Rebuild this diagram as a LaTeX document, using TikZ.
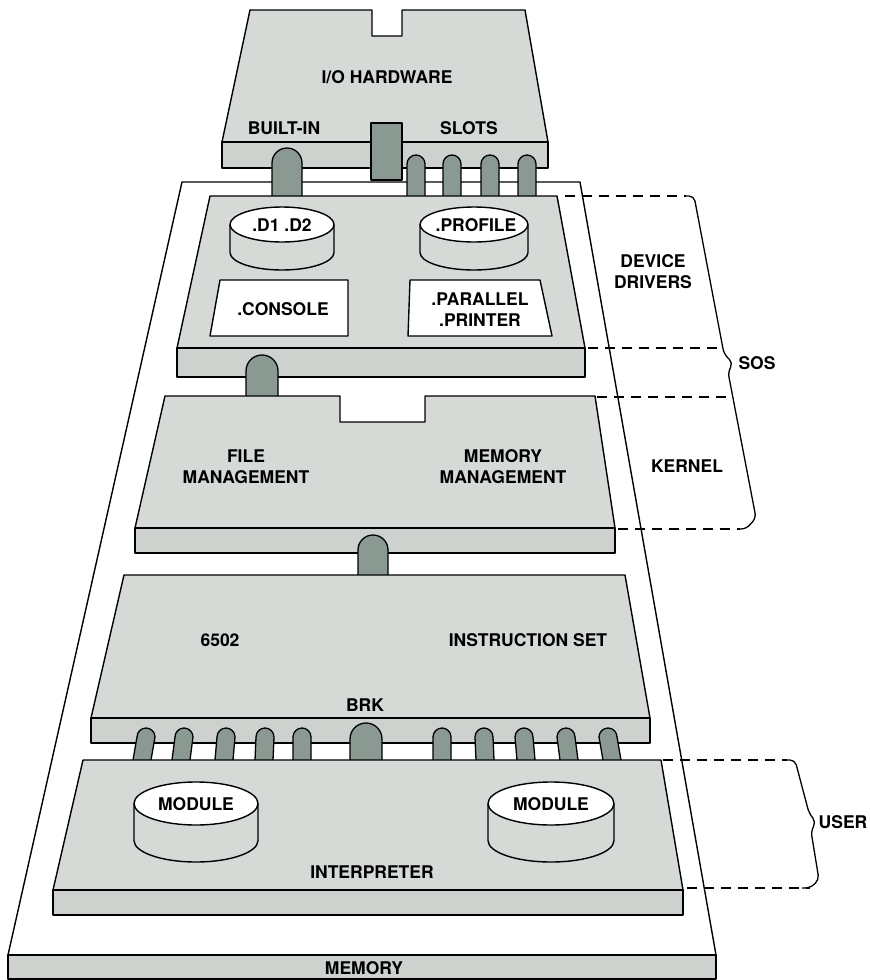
\documentclass[tikz,border=0pt]{standalone}
\usepackage{fontspec}
\setmainfont{TeX Gyre Heros}
\definecolor{facec}{RGB}{214,218,215}
\definecolor{stripc}{RGB}{205,210,207}
\definecolor{connc}{RGB}{138,154,146}
\newcommand\myconn[5]{%
  \pgfmathsetmacro\crad{(#2-#1)/2}%
  \draw[connst] (#1+#5,#4) -- (#1,#3+\crad) arc[start angle=180,end angle=360,radius=\crad] -- (#2+#5,#4);}
\newcommand\mycyl[5]{%
  \fill[facec] (#1-#4,#2) -- (#1-#4,#3) arc[start angle=180,end angle=0,x radius=#4,y radius=#5] -- (#1+#4,#2) -- cycle;
  \draw[ln] (#1-#4,#2) -- (#1-#4,#3) arc[start angle=180,end angle=0,x radius=#4,y radius=#5] -- (#1+#4,#2);
  \draw[ln,fill=white] (#1,#2) ellipse [x radius=#4, y radius=#5];}
\begin{document}
\begin{tikzpicture}[x=1pt,y=-1pt,line join=round,
  ln/.style={line width=1.4pt},
  board/.style={draw,fill=facec,line width=1.4pt},
  stripst/.style={draw,fill=stripc,line width=1.4pt},
  connst/.style={draw,fill=connc,line width=1.3pt},
  whitebox/.style={draw,fill=white,line width=1.4pt},
  lbl/.style={font=\fontsize{17.5}{21}\selectfont\bfseries,align=center,inner sep=0pt},
  dashln/.style={line width=1.3pt,dash pattern=on 10pt off 7pt},
  bracest/.style={line width=1.3pt,rounded corners=5pt}]
\useasboundingbox (0,0) rectangle (870,980);
% memory board
\draw[board,fill=white] (182,182) -- (580,182) -- (716,955) -- (8,955) -- cycle;
\draw[stripst] (8,955) rectangle (716,979);
\node[lbl] (memory) at (364,968) {MEMORY};
% I/O hardware
\draw[board] (250,10) -- (372,10) -- (372,36) -- (402,36) -- (402,10) -- (525,10) -- (548,142) -- (222,142) -- cycle;
\draw[stripst] (222,142) rectangle (548,168);
\node[lbl] (iohw) at (387,77) {I/O HARDWARE};
\node[lbl] (builtin) at (284,128) {BUILT-IN};
\node[lbl] (slots) at (469,128) {SLOTS};
\draw[connst] (371,123) rectangle (402,180);
\myconn{272}{302}{148}{196}{0}
\myconn{407}{425}{155}{196}{0}
\myconn{443}{461}{155}{196}{0}
\myconn{481}{499}{155}{196}{0}
\myconn{518}{536}{155}{196}{0}
% device drivers
\draw[board] (210,196) -- (557,196) -- (585,348) -- (177,348) -- cycle;
\draw[stripst] (177,348) rectangle (585,377);
\mycyl{282}{224.5}{252.5}{52}{17.5}
\mycyl{474}{224.5}{252.5}{54}{17.5}
\node[lbl] (d1d2) at (282,225) {.D1 .D2};
\node[lbl] (profile) at (476,225) {.PROFILE};
\draw[whitebox] (220,280) -- (348,280) -- (348,336) -- (210,336) -- cycle;
\draw[whitebox] (410,280) -- (540,280) -- (552,336) -- (408,336) -- cycle;
\node[lbl] (console) at (283,309) {.CONSOLE};
\node[lbl] (parallel) at (480,310) {.PARALLEL\\.PRINTER};
\myconn{246}{278}{355}{396}{0}
% kernel
\draw[board] (165,396) -- (340,396) -- (340,422) -- (425,422) -- (425,396) -- (595,396) -- (615,528) -- (135,528) -- cycle;
\draw[stripst] (135,528) rectangle (615,553);
\node[lbl] (filem) at (246,467) {FILE\\MANAGEMENT};
\node[lbl] (memm) at (503,467) {MEMORY\\MANAGEMENT};
\myconn{358}{388}{535}{575}{0}
% instruction set
\draw[board] (124,575) -- (625,575) -- (650,718) -- (91,718) -- cycle;
\draw[stripst] (91,718) rectangle (650,743);
\node[lbl] (cpu) at (220,640) {6502};
\node[lbl] (iset) at (528,640) {INSTRUCTION SET};
\node[lbl] (brk) at (365,705) {BRK};
\myconn{137}{155}{728}{760}{-4}
\myconn{175}{193}{728}{760}{-3}
\myconn{217}{235}{728}{760}{-2}
\myconn{256}{274}{728}{760}{-1}
\myconn{293}{311}{728}{760}{0}
\myconn{350}{382}{723}{760}{0}
\myconn{433}{451}{728}{760}{0}
\myconn{475}{493}{728}{760}{1}
\myconn{515}{533}{728}{760}{2}
\myconn{557}{575}{728}{760}{3}
\myconn{599}{617}{728}{760}{4}
% user
\draw[board] (83,760) -- (661,760) -- (683,890) -- (53,890) -- cycle;
\draw[stripst] (53,890) rectangle (683,915);
\mycyl{196}{803.5}{840.5}{62}{21.5}
\mycyl{551}{803.5}{840.5}{63}{21.5}
\node[lbl] (mod1) at (196,804) {MODULE};
\node[lbl] (mod2) at (551,804) {MODULE};
\node[lbl] (interp) at (372,872) {INTERPRETER};
% annotations
\draw[dashln] (565,196) -- (686,196);
\draw[dashln] (588,348) -- (722,348);
\draw[dashln] (597,397) -- (731,397);
\draw[dashln] (618,529) -- (740,529);
\draw[bracest] (684,196) -- (694,196) -- (724,354) -- (733,363) -- (728,372) -- (756,518) -- (746,529) -- (738,529);
\node[lbl] (ddrv) at (653,272) {DEVICE\\DRIVERS};
\node[lbl] (sos) at (757,363) {SOS};
\node[lbl] (kernel) at (687,466) {KERNEL};
\draw[dashln] (663,760) -- (787,760);
\draw[dashln] (687,888) -- (810,888);
\draw[bracest] (783,760) -- (795,760) -- (809,813) -- (816,822) -- (811,831) -- (819,880) -- (810,888) -- (802,888);
\node[lbl] (user) at (843,822) {USER};
\end{tikzpicture}
\end{document}
